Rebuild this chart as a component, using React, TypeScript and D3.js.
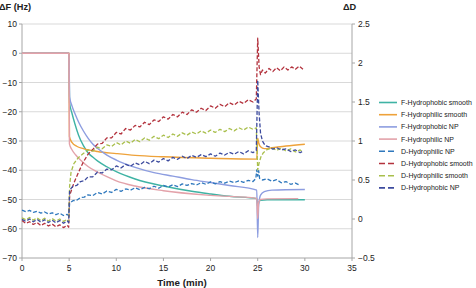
import React from "react";
import * as d3 from "d3";

// ΔF (frequency shift, Hz) traces – left axis
const fHydrophobicSmooth: [number, number][] = [
  [0, 0], [4.98, 0], [5.05, -17], [5.3, -20.5], [5.6, -24], [6, -28], [6.5, -31.5], [7, -34], [7.5, -35.5],
  [8, -36.8], [9, -38.8], [10, -40.5], [12, -43], [15, -45.4], [18, -47.2], [20, -48.1], [22, -48.9],
  [24.9, -49.7], [25, -52.6], [25.1, -51], [25.3, -50.3], [26, -50.1], [30, -50.1],
];
const fHydrophilicSmooth: [number, number][] = [
  [0, 0], [4.98, 0], [5.03, -28.5], [5.3, -30.5], [5.8, -31.8], [6.5, -32.6], [8, -33.6], [10, -34.3],
  [12, -34.9], [15, -35.4], [20, -35.9], [24.9, -36.2], [25, -29], [25.1, -30.6], [25.3, -32], [25.7, -32.6],
  [26.5, -32.3], [28, -31.7], [30, -31.1],
];
const fHydrophobicNP: [number, number][] = [
  [0, 0], [4.98, 0], [5.05, -15], [5.3, -18], [5.6, -20.5], [6, -23.5], [6.5, -26.5], [7, -29], [7.5, -31],
  [8, -32.5], [9, -34.8], [10, -36.5], [12, -39], [14, -40.8], [16, -42], [18, -43.2], [20, -44.2], [22, -45.2],
  [24.9, -46.8], [25, -63], [25.1, -52], [25.3, -48.5], [25.7, -47.3], [26.5, -46.8], [30, -46.6],
];
const fHydrophilicNP: [number, number][] = [
  [0, 0], [4.98, 0], [5.03, -31], [5.3, -33], [5.7, -34.8], [6.2, -36.5], [7, -38.7], [8, -40.6], [9, -42.2],
  [10, -43.6], [12, -45.4], [15, -47], [20, -48.6], [24.9, -49.6], [25, -56.5], [25.1, -51], [25.3, -50],
  [26, -49.8], [29.3, -49.7],
];

// ΔD (dissipation shift) traces – right axis
const dHydrophilicNP: [number, number][] = [
  [0, 0.115], [0.4, 0.095], [0.8, 0.11], [1.2, 0.085], [1.6, 0.1], [2, 0.075], [2.4, 0.09], [2.8, 0.065],
  [3.2, 0.08], [3.6, 0.055], [4, 0.075], [4.4, 0.045], [4.8, 0.06], [4.95, 0.04], [5.05, 0.2], [5.4, 0.235],
  [5.8, 0.24], [6.2, 0.275], [6.6, 0.28], [7, 0.31], [7.5, 0.3], [8, 0.34], [8.5, 0.32], [9, 0.36], [9.5, 0.34],
  [10, 0.38], [10.5, 0.355], [11, 0.385], [11.5, 0.37], [12, 0.4], [12.5, 0.375], [13, 0.405], [13.5, 0.39],
  [14, 0.42], [14.5, 0.395], [15, 0.43], [15.5, 0.41], [16, 0.44], [16.5, 0.415], [17, 0.45], [17.5, 0.43],
  [18, 0.455], [18.5, 0.435], [19, 0.465], [19.5, 0.445], [20, 0.475], [20.5, 0.45], [21, 0.48], [21.5, 0.46],
  [22, 0.485], [22.5, 0.465], [23, 0.49], [23.5, 0.47], [24, 0.495], [24.5, 0.48], [24.8, 0.52], [24.9, 0.63],
  [25, 0.55], [25.1, 0.62], [25.2, 0.52], [25.5, 0.5], [26, 0.515], [26.5, 0.485], [27, 0.505], [27.5, 0.465],
  [28, 0.48], [28.5, 0.445], [29, 0.46], [29.5, 0.43],
];
const dHydrophobicSmooth: [number, number][] = [
  [0, -0.02], [0.4, -0.055], [0.8, -0.035], [1.2, -0.07], [1.6, -0.045], [2, -0.085], [2.4, -0.055], [2.8, -0.09],
  [3.2, -0.065], [3.6, -0.1], [4, -0.075], [4.4, -0.11], [4.8, -0.08], [4.95, -0.105], [5.05, 0.3], [5.5, 0.46],
  [6, 0.6], [6.5, 0.73], [7, 0.83], [7.5, 0.89], [8, 0.96], [8.5, 0.97], [9, 1.04], [9.5, 1.04], [10, 1.11],
  [10.5, 1.09], [11, 1.16], [11.5, 1.14], [12, 1.2], [12.5, 1.18], [13, 1.24], [13.5, 1.21], [14, 1.27],
  [14.5, 1.25], [15, 1.31], [15.5, 1.28], [16, 1.34], [16.5, 1.31], [17, 1.37], [17.5, 1.34], [18, 1.4],
  [18.5, 1.37], [19, 1.42], [19.5, 1.39], [20, 1.45], [20.5, 1.42], [21, 1.47], [21.5, 1.44], [22, 1.49],
  [22.5, 1.46], [23, 1.51], [23.5, 1.48], [24, 1.53], [24.5, 1.5], [24.85, 1.54], [25, 2.32], [25.15, 1.95],
  [25.3, 1.85], [25.5, 1.91], [25.8, 1.87], [26.2, 1.93], [26.6, 1.89], [27, 1.94], [27.4, 1.9], [27.8, 1.95],
  [28.2, 1.91], [28.6, 1.95], [29, 1.92], [29.4, 1.96], [29.8, 1.92],
];
const dHydrophilicSmooth: [number, number][] = [
  [0, 0.015], [0.4, -0.01], [0.8, 0.02], [1.2, -0.015], [1.6, 0.015], [2, -0.02], [2.4, 0.01], [2.8, -0.025],
  [3.2, 0.005], [3.6, -0.025], [4, 0], [4.4, -0.03], [4.8, -0.005], [4.95, -0.035], [5.05, 0.42], [5.2, 0.6],
  [5.5, 0.71], [6, 0.79], [6.5, 0.84], [7, 0.885], [7.5, 0.87], [8, 0.92], [8.5, 0.9], [9, 0.95], [9.5, 0.93],
  [10, 0.98], [10.5, 0.95], [11, 1.0], [11.5, 0.97], [12, 1.02], [12.5, 0.99], [13, 1.04], [13.5, 1.01],
  [14, 1.06], [14.5, 1.03], [15, 1.075], [15.5, 1.045], [16, 1.09], [16.5, 1.06], [17, 1.105], [17.5, 1.075],
  [18, 1.115], [18.5, 1.09], [19, 1.13], [19.5, 1.1], [20, 1.14], [20.5, 1.11], [21, 1.15], [21.5, 1.12],
  [22, 1.16], [22.5, 1.13], [23, 1.17], [23.5, 1.14], [24, 1.18], [24.5, 1.15], [24.85, 1.17], [25, 0.63],
  [25.15, 0.72], [25.35, 0.8], [25.6, 0.85], [26, 0.89], [26.5, 0.91], [27, 0.88], [27.5, 0.91], [28, 0.87],
  [28.5, 0.9], [29, 0.86], [29.5, 0.885], [29.8, 0.855],
];
const dHydrophobicNP: [number, number][] = [
  [0, -0.005], [0.4, -0.03], [0.8, 0.0], [1.2, -0.035], [1.6, -0.005], [2, -0.04], [2.4, -0.01], [2.8, -0.045],
  [3.2, -0.015], [3.6, -0.05], [4, -0.02], [4.4, -0.055], [4.8, -0.025], [4.95, -0.045], [5.05, 0.37], [5.4, 0.42],
  [5.8, 0.43], [6.2, 0.48], [6.6, 0.49], [7, 0.54], [7.5, 0.54], [8, 0.6], [8.5, 0.59], [9, 0.64], [9.5, 0.63],
  [10, 0.68], [10.5, 0.655], [11, 0.7], [11.5, 0.675], [12, 0.72], [12.5, 0.695], [13, 0.74], [13.5, 0.71],
  [14, 0.755], [14.5, 0.73], [15, 0.775], [15.5, 0.745], [16, 0.79], [16.5, 0.765], [17, 0.805], [17.5, 0.775],
  [18, 0.815], [18.5, 0.79], [19, 0.825], [19.5, 0.8], [20, 0.835], [20.5, 0.805], [21, 0.845], [21.5, 0.82],
  [22, 0.855], [22.5, 0.83], [23, 0.865], [23.5, 0.835], [24, 0.875], [24.5, 0.85], [24.85, 0.88], [25, 1.78],
  [25.15, 1.35], [25.3, 1.1], [25.5, 1.0], [25.8, 0.94], [26.2, 0.925], [26.6, 0.895], [27, 0.915], [27.5, 0.885],
  [28, 0.9], [28.5, 0.865], [29, 0.885], [29.5, 0.85], [29.8, 0.87],
];

const timeTicks = [0, 5, 10, 15, 20, 25, 30, 35];
const freqTicks = [10, 0, -10, -20, -30, -40, -50, -60, -70];
const dissTicks = [2.5, 2, 1.5, 1, 0.5, 0, -0.5];

type Series = { name: string; data: [number, number][]; color: string; axis: "F" | "D" };

const series: Series[] = [
  { name: "F-Hydrophobic smooth", data: fHydrophobicSmooth, color: "#3fb3a4", axis: "F" },
  { name: "F-Hydrophilic smooth", data: fHydrophilicSmooth, color: "#eea23a", axis: "F" },
  { name: "F-Hydrophobic NP", data: fHydrophobicNP, color: "#8d9de0", axis: "F" },
  { name: "F-Hydrophilic NP", data: fHydrophilicNP, color: "#e3a2aa", axis: "F" },
  { name: "D-Hydrophilic NP", data: dHydrophilicNP, color: "#2f78bd", axis: "D" },
  { name: "D-Hydrophobic smooth", data: dHydrophobicSmooth, color: "#b3323d", axis: "D" },
  { name: "D-Hydrophilic smooth", data: dHydrophilicSmooth, color: "#a9bf4c", axis: "D" },
  { name: "D-Hydrophobic NP", data: dHydrophobicNP, color: "#3d4b9e", axis: "D" },
];

const W = 476;
const H = 288;
const plot = { left: 22, right: 352, top: 24, bottom: 258 };
const FONT = "'Liberation Sans', Arial, sans-serif";

export default function App() {
  const x = d3.scaleLinear().domain([0, 35]).range([plot.left, plot.right]);
  const yF = d3.scaleLinear().domain([-70, 10]).range([plot.bottom, plot.top]);
  const yD = d3.scaleLinear().domain([-0.5, 2.5]).range([plot.bottom, plot.top]);

  const lineFor = (s: Series) => {
    const y = s.axis === "F" ? yF : yD;
    return d3
      .line<[number, number]>()
      .x((d) => x(d[0]))
      .y((d) => y(d[1]))
      .curve(s.axis === "F" ? d3.curveMonotoneX : d3.curveLinear)(s.data) as string;
  };

  const legendX = 379;
  const legendY0 = 102.5;
  const legendStep = 12.2;

  return (
    <svg
      width={W}
      height={H}
      style={{ position: "absolute", left: 0, top: 0, background: "#fff" }}
      fontFamily={FONT}
    >
      {/* horizontal gridlines on the frequency ticks */}
      {freqTicks.filter((t) => t !== -70).map((t) => (
        <line key={`g${t}`} x1={plot.left} x2={plot.right} y1={yF(t)} y2={yF(t)} stroke="#d9d9d9" strokeWidth={1} />
      ))}

      {/* axes */}
      <line x1={plot.left} x2={plot.left} y1={plot.top} y2={plot.bottom} stroke="#a6a6a6" />
      <line x1={plot.right} x2={plot.right} y1={plot.top} y2={plot.bottom} stroke="#a6a6a6" />
      <line x1={plot.left} x2={plot.right} y1={plot.bottom} y2={plot.bottom} stroke="#a6a6a6" />

      {timeTicks.map((t) => (
        <g key={`x${t}`}>
          <line x1={x(t)} x2={x(t)} y1={plot.bottom} y2={plot.bottom + 3} stroke="#a6a6a6" />
          <text x={x(t)} y={plot.bottom + 13} fontSize={8.5} textAnchor="middle" fill="#222">
            {t}
          </text>
        </g>
      ))}
      {freqTicks.map((t) => (
        <g key={`f${t}`}>
          <line x1={plot.left - 3} x2={plot.left} y1={yF(t)} y2={yF(t)} stroke="#a6a6a6" />
          <text x={plot.left - 5} y={yF(t) + 3} fontSize={8.5} textAnchor="end" fill="#222">
            {t < 0 ? `\u2212${-t}` : t}
          </text>
        </g>
      ))}
      {dissTicks.map((t) => (
        <g key={`d${t}`}>
          <line x1={plot.right} x2={plot.right + 3} y1={yD(t)} y2={yD(t)} stroke="#a6a6a6" />
          <text x={plot.right + 6} y={yD(t) + 3} fontSize={8.5} textAnchor="start" fill="#222">
            {t < 0 ? `\u2212${-t}` : t}
          </text>
        </g>
      ))}

      <text x={-1} y={9.5} fontSize={9.2} fontWeight="bold" fill="#222">ΔF (Hz)</text>
      <text x={343} y={9.5} fontSize={9.2} fontWeight="bold" fill="#222">ΔD</text>
      <text x={182} y={286} fontSize={9.8} fontWeight="bold" textAnchor="middle" fill="#222">Time (min)</text>

      {/* data traces */}
      {series.map((s) => (
        <path
          key={s.name}
          d={lineFor(s)}
          fill="none"
          stroke={s.color}
          strokeWidth={s.axis === "F" ? 1.4 : 1.3}
          strokeDasharray={s.axis === "D" ? "4,2" : undefined}
          strokeLinejoin="round"
        />
      ))}

      {/* legend */}
      {series.map((s, i) => {
        const y = legendY0 + i * legendStep;
        return (
          <g key={`l${s.name}`}>
            <line
              x1={legendX}
              x2={legendX + 18}
              y1={y}
              y2={y}
              stroke={s.color}
              strokeWidth={1.6}
              strokeDasharray={s.axis === "D" ? "6,3" : undefined}
            />
            <text x={legendX + 22} y={y + 2.5} fontSize={7} fill="#222">
              {s.name}
            </text>
          </g>
        );
      })}
    </svg>
  );
}
